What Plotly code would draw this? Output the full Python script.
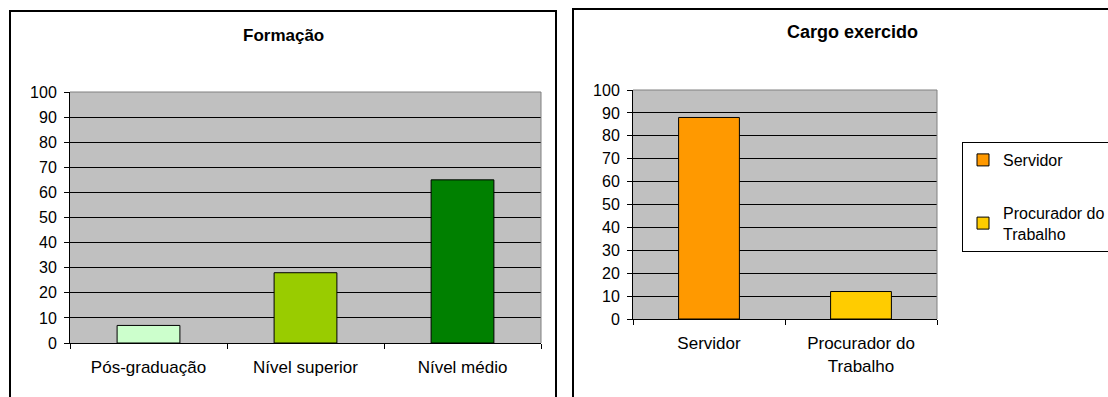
import plotly.graph_objects as go

# ---- data ----
formacao_cats = ["Pós-graduação", "Nível superior", "Nível médio"]
formacao_vals = [7, 28, 65]
formacao_colors = ["#CCFFCC", "#99CC00", "#008000"]

cargo_cats = ["Servidor", "Procurador do<br>Trabalho"]
cargo_names = ["Servidor", "Procurador do<br>Trabalho"]
cargo_vals = [88, 12]
cargo_colors = ["#FF9900", "#FFCC00"]

y_ticks = list(range(0, 101, 10))

W, H = 1108, 397
FONT = "Liberation Sans, Arial, sans-serif"

def px(x):
    return x / W

def py(y):
    return (H - y) / H

fig = go.Figure()

fig.add_trace(go.Bar(
    x=formacao_cats, y=formacao_vals,
    marker=dict(color=formacao_colors, line=dict(color="black", width=1)),
    showlegend=False, xaxis="x", yaxis="y", width=0.4,
))

for i, (c, n, v, col) in enumerate(zip(cargo_cats, cargo_names, cargo_vals, cargo_colors)):
    fig.add_trace(go.Bar(
        x=[c], y=[v], name=n, legendgroup=f"g{i}",
        marker=dict(color=col, line=dict(color="black", width=1)),
        xaxis="x2", yaxis="y2", width=0.4,
    ))

axis_common_y = dict(
    range=[0, 100], tickvals=y_ticks, showgrid=True, gridcolor="black", gridwidth=1,
    showline=True, linecolor="black", linewidth=1, ticks="outside", ticklen=5,
    tickcolor="black", tickfont=dict(family=FONT, size=16, color="black"),
    zeroline=False, fixedrange=True, ticklabelstandoff=4, automargin=False,
)
axis_common_x = dict(
    type="category", showline=True, linecolor="black", linewidth=1, ticks="outside",
    tickson="boundaries", ticklen=5, tickcolor="black",
    tickfont=dict(family=FONT, size=17, color="black"), showgrid=False,
    fixedrange=True, ticklabelstandoff=9, automargin=False,
)

fig.update_layout(
    width=W, height=H, margin=dict(l=0, r=0, t=0, b=0, autoexpand=False),
    paper_bgcolor="white", plot_bgcolor="#C0C0C0",
    barmode="overlay",
    xaxis=dict(domain=[px(70), px(541)], anchor="y", categoryorder="array",
               categoryarray=formacao_cats, **axis_common_x),
    yaxis=dict(domain=[py(343), py(92)], anchor="x", **axis_common_y),
    xaxis2=dict(domain=[px(633), px(937)], anchor="y2", categoryorder="array",
                categoryarray=cargo_cats, **axis_common_x),
    yaxis2=dict(domain=[py(319), py(90)], anchor="x2", **axis_common_y),
    legend=dict(
        x=px(962), y=py(142), xanchor="left", yanchor="top",
        bordercolor="black", borderwidth=1, bgcolor="white",
        font=dict(family=FONT, size=16, color="black"),
        tracegroupgap=29, traceorder="grouped",
    ),
    showlegend=True,
    annotations=[
        dict(text="<b>Formação</b>", x=px(283.5), y=py(36), xref="paper", yref="paper",
             xanchor="center", yanchor="middle",
             showarrow=False, font=dict(family=FONT, size=17, color="black")),
        dict(text="<b>Cargo exercido</b>", x=px(852), y=py(32), xref="paper", yref="paper",
             xanchor="center", yanchor="middle",
             showarrow=False, font=dict(family=FONT, size=18, color="black")),
    ],
    shapes=[
        # outer chart borders
        dict(type="rect", xref="paper", yref="paper", x0=px(10), x1=px(556),
             y0=-0.05, y1=py(11), line=dict(color="black", width=2), layer="above"),
        dict(type="rect", xref="paper", yref="paper", x0=px(573), x1=1.05,
             y0=-0.05, y1=py(9), line=dict(color="black", width=2), layer="above"),
        # grey plot-area top/right edges
        dict(type="line", xref="x domain", yref="y domain", x0=0, x1=1, y0=1, y1=1,
             line=dict(color="#808080", width=1), layer="above"),
        dict(type="line", xref="x domain", yref="y domain", x0=1, x1=1, y0=0, y1=1,
             line=dict(color="#808080", width=1), layer="above"),
        dict(type="line", xref="x2 domain", yref="y2 domain", x0=0, x1=1, y0=1, y1=1,
             line=dict(color="#808080", width=1), layer="above"),
        dict(type="line", xref="x2 domain", yref="y2 domain", x0=1, x1=1, y0=0, y1=1,
             line=dict(color="#808080", width=1), layer="above"),
    ],
)

fig.write_html("out.html")
